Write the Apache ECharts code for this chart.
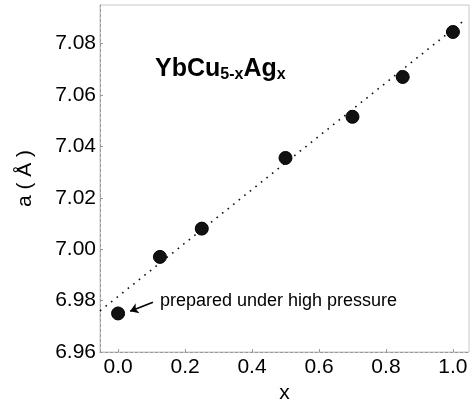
<!DOCTYPE html>
<html>
<head>
<meta charset="utf-8">
<script src="https://cdn.jsdelivr.net/npm/echarts@6/dist/echarts.min.js"></script>
<style>
  html, body { margin: 0; padding: 0; background: #fff; }
  #chart { width: 473px; height: 405px; }
</style>
</head>
<body>
<div id="chart"></div>
<script>
// measured lattice parameter vs Ag content
const xValues = [0.0, 0.125, 0.25, 0.5, 0.7, 0.85, 1.0]
const aValues = [6.975, 6.997, 7.008, 7.0355, 7.0515, 7.067, 7.0845]

// dotted guide line at both ends
const fitX = [-0.054, 1.036]
const fitY = [6.976, 7.0893]

const xTicks = [0.0, 0.2, 0.4, 0.6, 0.8, 1.0]
const yTicks = [6.96, 6.98, 7.00, 7.02, 7.04, 7.06, 7.08]

const noteText = 'prepared under high pressure'
const notePos = [0.125, 6.9797]
const arrowFrom = [0.104, 6.9794]
const arrowTo = [0.036, 6.9759]

const chart = echarts.init(document.getElementById('chart'))
const font = 'Liberation Sans, Arial, Helvetica, sans-serif'
const axisGray = '#9a9a9a'

const option = {
  animation: false,
  title: {
    left: 150,
    top: 50,
    text: '{b|YbCu}{s|5-x}{b|Ag}{s|x}',
    textStyle: {
      rich: {
        b: { fontFamily: font, fontWeight: 'bold', fontSize: 25, color: '#000' },
        s: { fontFamily: font, fontWeight: 'bold', fontSize: 16, color: '#000', verticalAlign: 'bottom', padding: [12, 0, 0, 0] }
      }
    }
  },
  grid: {
    left: 100, right: 4, top: 5, bottom: 53,
    outerBoundsMode: 'none',
    show: true, borderColor: '#c8c8c8', borderWidth: 1
  },
  xAxis: {
    type: 'value',
    min: -0.054,
    max: 1.048,
    name: 'x',
    nameLocation: 'middle',
    nameGap: 31,
    nameTextStyle: { fontFamily: font, fontSize: 21, color: '#000' },
    splitLine: { show: false },
    axisLine: { onZero: false, lineStyle: { color: axisGray, width: 1, type: [3, 2] } },
    axisTick: { inside: true, length: 3, customValues: xTicks, lineStyle: { color: axisGray } },
    axisLabel: {
      customValues: xTicks,
      margin: 5,
      fontFamily: font,
      fontSize: 21,
      color: '#000',
      formatter: v => v.toFixed(1)
    }
  },
  yAxis: {
    type: 'value',
    min: 6.96,
    max: 7.095,
    name: 'a ( Å )',
    nameLocation: 'middle',
    nameGap: 64,
    nameTextStyle: { fontFamily: font, fontSize: 21, color: '#000' },
    splitLine: { show: false },
    axisLine: { onZero: false, lineStyle: { color: axisGray, width: 1, type: [3, 2] } },
    axisTick: { inside: true, length: 3, customValues: yTicks, lineStyle: { color: axisGray } },
    axisLabel: {
      customValues: yTicks,
      margin: 4,
      fontFamily: font,
      fontSize: 21,
      color: '#000',
      formatter: v => v.toFixed(2)
    }
  },
  series: [
    {
      name: 'fit',
      type: 'line',
      data: fitX.map((x, i) => [x, fitY[i]]),
      symbol: 'none',
      lineStyle: { color: '#111', width: 1.6, type: [1.6, 5.5] },
      z: 1
    },
    {
      name: 'a',
      type: 'scatter',
      data: xValues.map((x, i) => [x, aValues[i]]),
      symbolSize: 13,
      itemStyle: { color: '#111', borderColor: '#000', borderWidth: 1, opacity: 1 },
      z: 3
    },
    {
      name: 'note',
      type: 'scatter',
      data: [notePos],
      symbolSize: 0,
      silent: true,
      itemStyle: { opacity: 1 },
      label: {
        show: true,
        position: 'right',
        distance: 0,
        formatter: noteText,
        fontFamily: font,
        fontSize: 18,
        color: '#000'
      },
      markLine: {
        silent: true,
        symbol: ['none', 'arrow'],
        symbolSize: 8,
        label: { show: false },
        lineStyle: { color: '#000', width: 1.6, type: 'solid', opacity: 1 },
        data: [[{ coord: arrowFrom }, { coord: arrowTo }]]
      }
    }
  ]
}

chart.setOption(option)
</script>
</body>
</html>
